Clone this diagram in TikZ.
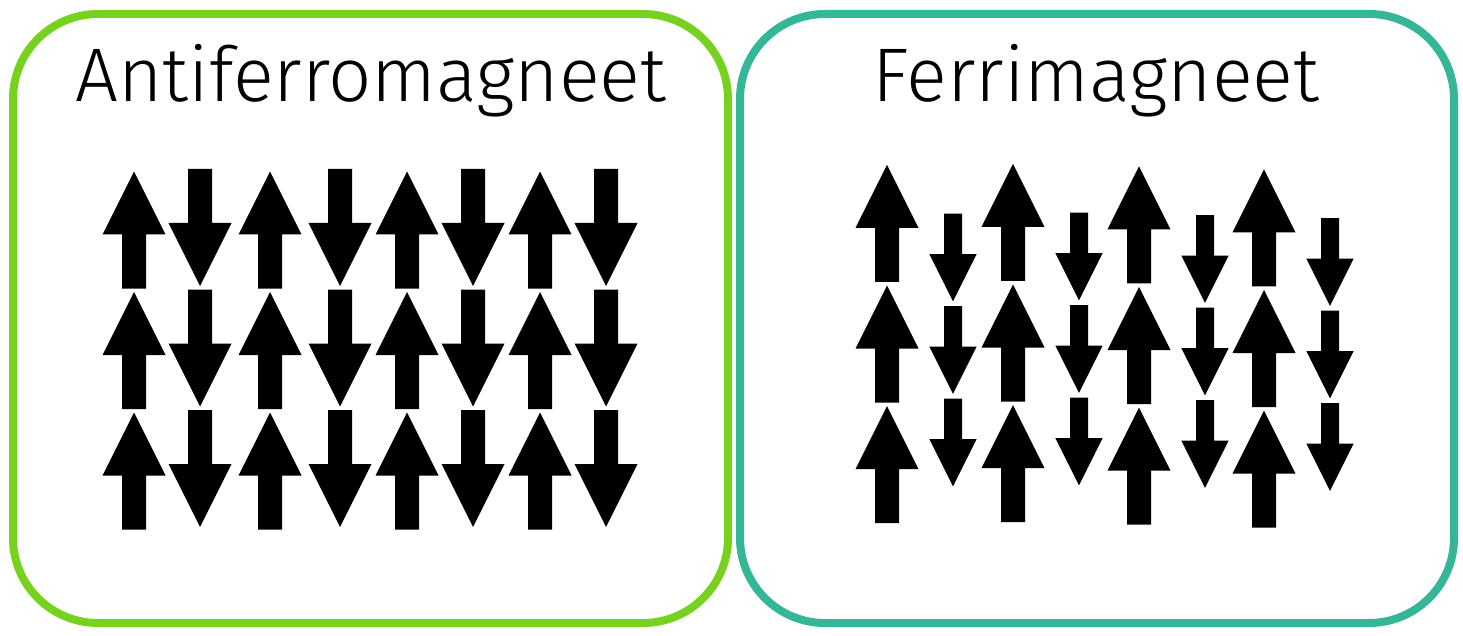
\documentclass[tikz,border=0pt]{standalone}
\usepackage{fontspec}
\setmainfont{Fira Sans Light}
\usetikzlibrary{positioning}

\definecolor{afmgreen}{RGB}{119,209,31}
\definecolor{ferriteal}{RGB}{53,182,150}

\tikzset{
  spin/.pic={\fill (0,-58.5) -- (31.5,4.5) -- (12,4.5) -- (12,58.5) -- (-12,58.5) -- (-12,4.5) -- (-31.5,4.5) -- cycle;},
  panel/.style={line width=8pt, rounded corners=85pt},
  paneltitle/.style={anchor=base, font=\fontsize{76}{80}\selectfont},
}

\begin{document}
\begin{tikzpicture}[x=1pt,y=-1pt]
\useasboundingbox (0,0) rectangle (1463,636);

\draw[panel, afmgreen] (13,14) rectangle (728,623);
\draw[panel, ferriteal] (740,14) rectangle (1454,623);

\node[paneltitle] (afm) at (371,102) {Antiferromagneet};
\node[paneltitle] (ferri) at (1096,102) {Ferrimagneet};

% antiferromagneet: up and down spins of equal size
\foreach \x/\dir/\yc in {134/0/230, 200/180/227.5, 270/0/230, 340/180/227.5,
                         407/0/230, 473/180/227.5, 540/0/230, 606/180/227.5}
  \foreach \r in {0,1,2}
    \pic[rotate=\dir] at (\x,{\yc+120.5*\r}) {spin};

% ferrimagneet: large up spins, small down spins
\foreach \x/\dy in {887/0, 1013/-1, 1139/1.5, 1264/4.5}
  \foreach \r in {0,1,2} {
    \pic at (\x,{223.3+\dy+120.7*\r}) {spin};
    \pic[rotate=180, scale=0.75] at ({\x+66},{257.5+\dy+92.5*\r}) {spin};
  }
\end{tikzpicture}
\end{document}
